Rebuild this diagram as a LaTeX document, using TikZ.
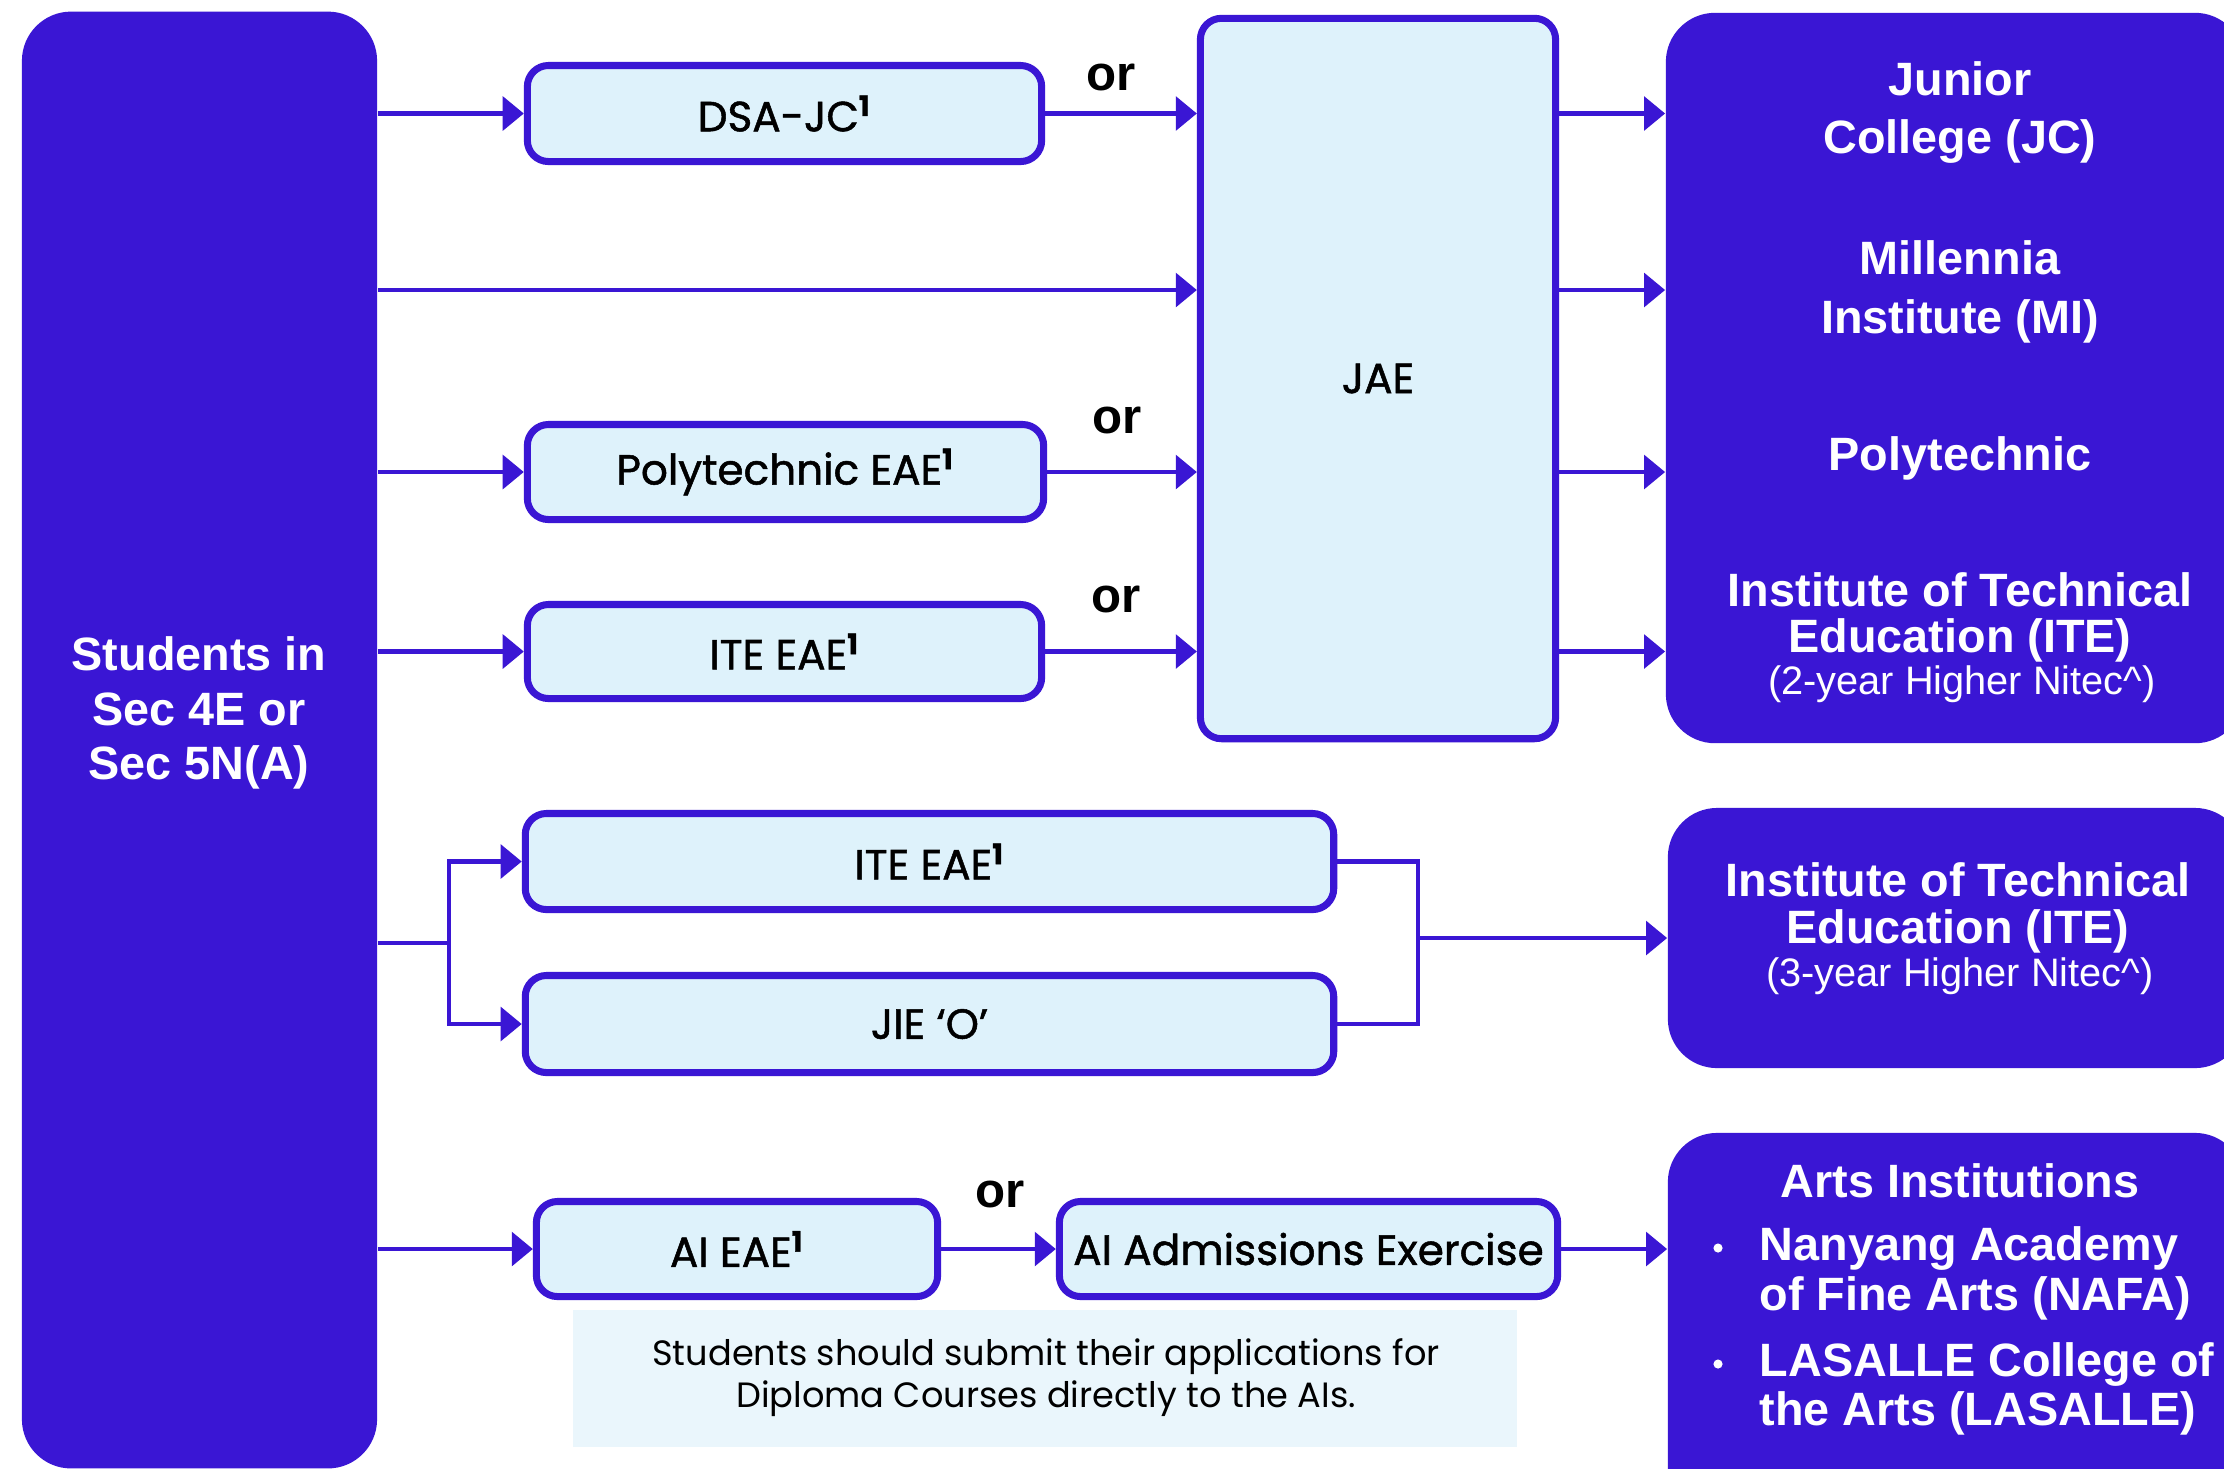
\documentclass[tikz,border=0pt]{standalone}
\usepackage{fontspec}
\setmainfont{Liberation Sans}
\newfontfamily\pop{Poppins}
\newfontfamily\popm[FakeBold=1.2]{Poppins}
\usetikzlibrary{arrows.meta}
\definecolor{dblue}{RGB}{58,22,212}
\definecolor{lblue}{RGB}{222,242,251}
\definecolor{nblue}{RGB}{234,246,252}
\begin{document}
\begin{tikzpicture}[x=0.01cm,y=-0.01cm,
  lbox/.style={draw=dblue,line width=2pt,fill=lblue,rounded corners=6pt,inner sep=0pt,
     font=\popm\fontsize{12}{14}\selectfont,text=black},
  dbox/.style={fill=dblue,rounded corners=14pt,inner sep=0pt},
  wtxt/.style={text=white,font=\bfseries\fontsize{13.3}{16}\selectfont,inner sep=0pt,anchor=base},
  stxt/.style={text=white,font=\fontsize{11.3}{13}\selectfont,inner sep=0pt,anchor=base},
  ortxt/.style={text=black,font=\bfseries\fontsize{14}{16}\selectfont,inner sep=0pt,anchor=base},
  conn/.style={draw=dblue,line width=1.4pt},
  arr/.style={conn,-{Triangle[length=6pt,width=9.5pt]}},
  bul/.style={circle,fill=white,inner sep=0pt,minimum size=2.6pt}]
\clip (0,0) rectangle (2224,1468);
\fill[white] (0,0) rectangle (2224,1468);

% dark boxes
\node[dbox,minimum width=3.55cm,minimum height=14.56cm] (stud) at (199.5,740) {};
\node[dbox,minimum width=5.78cm,minimum height=7.30cm] (r1) at (1955,378) {};
\node[dbox,minimum width=5.76cm,minimum height=2.60cm] (ite3) at (1956,938) {};
\node[dbox,minimum width=5.76cm,minimum height=3.87cm] (arts) at (1956,1326.5) {};

% left text
\node[wtxt] (s1) at (199,670) {Students in};
\node[wtxt] (s2) at (199,725) {Sec 4E or};
\node[wtxt] (s3) at (199,779) {Sec 5N(A)};

% light boxes
\node[lbox,minimum width=5.14cm,minimum height=0.96cm] (dsa) at (784.5,113.5) {DSA-JC\textsuperscript{\bfseries 1}};
\node[lbox,minimum width=5.16cm,minimum height=0.95cm] (poly) at (785.5,472) {Polytechnic EAE\textsuperscript{\bfseries 1}};
\node[lbox,minimum width=5.14cm,minimum height=0.94cm] (iteA) at (784.5,651.5) {ITE EAE\textsuperscript{\bfseries 1}};
\node[lbox,minimum width=3.55cm,minimum height=7.20cm] (jae) at (1378,378.5) {JAE};
\node[lbox,minimum width=8.08cm,minimum height=0.96cm] (iteB) at (929.5,861.5) {ITE EAE\textsuperscript{\bfseries 1}};
\node[lbox,minimum width=8.08cm,minimum height=0.97cm] (jie) at (929.5,1024) {JIE ‘O’};
\node[lbox,minimum width=4.01cm,minimum height=0.95cm] (aiE) at (737,1249) {AI EAE\textsuperscript{\bfseries 1}};
\node[lbox,minimum width=4.98cm,minimum height=0.95cm] (aiA) at (1308.5,1249) {AI Admissions Exercise};

% note
\node[fill=nblue,minimum width=9.44cm,minimum height=1.37cm,inner sep=0pt] (note) at (1045,1378.5) {};
\node[font=\pop\fontsize{10}{12}\selectfont,align=center,inner sep=0pt] (notetxt) at (1046,1378) {Students should submit their applications for\\Diploma Courses directly to the AIs.};

% or labels
\node[ortxt] (or1) at (1111,90) {or};
\node[ortxt] (or2) at (1117,433) {or};
\node[ortxt] (or3) at (1116,612) {or};
\node[ortxt] (or4) at (1000,1207) {or};

% right box texts
\node[wtxt] (t1) at (1960,95) {Junior};
\node[wtxt] (t2) at (1960,153) {College (JC)};
\node[wtxt] (t3) at (1960,274) {Millennia};
\node[wtxt] (t4) at (1960,333) {Institute (MI)};
\node[wtxt] (t5) at (1960,470) {Polytechnic};
\node[wtxt] (t6) at (1960,606) {Institute of Technical};
\node[wtxt] (t7) at (1960,652) {Education (ITE)};
\node[stxt] (t8) at (1962,694) {(2-year Higher Nitec\^{})};

\node[wtxt] (u1) at (1958,896) {Institute of Technical};
\node[wtxt] (u2) at (1958,943) {Education (ITE)};
\node[stxt] (u3) at (1960,986) {(3-year Higher Nitec\^{})};

\node[wtxt] (a1) at (1960,1197) {Arts Institutions};
\node[wtxt,anchor=base west] (a2) at (1759,1260) {Nanyang Academy};
\node[wtxt,anchor=base west] (a3) at (1759,1310) {of Fine Arts (NAFA)};
\node[wtxt,anchor=base west] (a4) at (1759,1376) {LASALLE College of};
\node[wtxt,anchor=base west] (a5) at (1759,1425) {the Arts (LASALLE)};
\node[bul] (b1) at (1718,1248) {};
\node[bul] (b2) at (1718,1364) {};

% connectors
\coordinate (jmid) at (1000,290);
\coordinate (bx) at (449,943);
\coordinate (jx) at (1418,938);

\draw[arr] (stud.east |- dsa.west) -- (dsa.west);
\draw[arr] (stud.east |- jmid) -- (jae.west |- jmid);
\draw[arr] (stud.east |- poly.west) -- (poly.west);
\draw[arr] (stud.east |- iteA.west) -- (iteA.west);

\draw[arr] (dsa.east) -- (jae.west |- dsa.east);
\draw[arr] (poly.east) -- (jae.west |- poly.east);
\draw[arr] (iteA.east) -- (jae.west |- iteA.east);

\draw[arr] (jae.east |- dsa.east) -- (r1.west |- dsa.east);
\draw[arr] (jae.east |- jmid) -- (r1.west |- jmid);
\draw[arr] (jae.east |- poly.east) -- (r1.west |- poly.east);
\draw[arr] (jae.east |- iteA.east) -- (r1.west |- iteA.east);

\draw[conn] (stud.east |- bx) -- (bx);
\draw[arr] (bx) |- (iteB.west);
\draw[arr] (bx) |- (jie.west);

\draw[conn] (iteB.east) -| (jx);
\draw[conn] (jie.east) -| (jx);
\draw[arr] (jx) -- (ite3.west |- jx);

\draw[arr] (stud.east |- aiE.west) -- (aiE.west);
\draw[arr] (aiE.east) -- (aiA.west);
\draw[arr] (aiA.east) -- (arts.west |- aiA.east);
\end{tikzpicture}
\end{document}
